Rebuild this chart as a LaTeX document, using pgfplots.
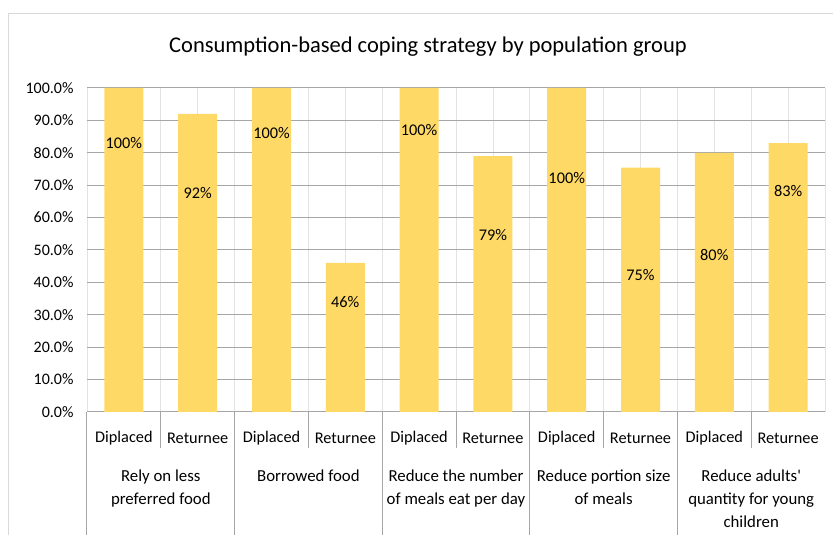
\documentclass[border=0pt]{standalone}
\usepackage{pgfplots}
\pgfplotsset{compat=1.18}
\usepackage{pgfplotstable}
\usepackage{fontspec}
\setmainfont{Carlito}
\newfontfamily\rawcarlito{Carlito}

\definecolor{barY}{HTML}{FFD966}
\definecolor{gridH}{HTML}{A6A6A6}
\definecolor{gridV}{HTML}{E3E3E3}
\definecolor{frameC}{HTML}{D9D9D9}
\definecolor{sepC}{HTML}{A6A6A6}

\pgfplotstableread{
x val ly
0 100 83.0
1 92 67.6
2 100 86.1
3 46 34.0
4 100 87.0
5 79 54.6
6 100 72.2
7 75.4 42.3
8 80 48.5
9 83 68.2
}\data

\begin{document}
\begin{tikzpicture}[x=1pt,y=1pt]
\useasboundingbox (0,0) rectangle (833,535);
\draw[frameC, line width=1pt] (8.5,0) -- (8.5,521) -- (840,521);
\node[font=\fontsize{22.5}{27}\selectfont] at (428,488) {Consumption-based coping strategy by population group};
\begin{axis}[
  at={(87pt,123pt)}, anchor=south west,
  scale only axis, width=738pt, height=324pt,
  xmin=-0.5, xmax=9.5, ymin=0, ymax=100,
  clip=false,
  axis lines*=left,
  y axis line style={draw=none},
  x axis line style={draw=sepC, line width=1pt, -},
  ytick={0,10,...,100},
  /pgf/number format/assume math mode=true,
  yticklabel={\pgfmathprintnumber[fixed,fixed zerofill,precision=1]{\tick}\%},
  yticklabel style={font=\fontsize{16}{19}\selectfont, xshift=-10pt},
  ymajorgrids,
  major grid style={draw=gridH, line width=1pt},
  xtick={0,...,9},
  xticklabels={Diplaced,Returnee,Diplaced,Returnee,Diplaced,Returnee,Diplaced,Returnee,Diplaced,Returnee},
  xticklabel style={font=\fontsize{16.3}{19}\selectfont, anchor=center, yshift=-26pt},
  minor xtick={-0.5,0.5,...,9.5},
  xminorgrids, xmajorgrids,
  x grid style={draw=gridV, line width=0.8pt},
  minor x grid style={draw=gridV, line width=0.8pt},
  major tick length=0pt, minor tick length=0pt,
]
\addplot[ybar, bar width=39pt, bar shift=0pt, fill=barY, draw=none] table[x=x, y=val] {\data};
\addplot[only marks, mark=none,
  nodes near coords={\pgfmathprintnumber[fixed,precision=0]{\pgfplotspointmeta}\%},
  point meta=explicit,
  every node near coord/.style={anchor=center, font=\fontsize{16.3}{19}\selectfont, text=black}]
  table[x=x, y=ly, meta=val] {\data};
% category separators below the axis
\pgfplotsinvokeforeach{0.5,2.5,4.5,6.5,8.5}{
  \draw[sepC, line width=1pt] (axis cs:#1,0) -- ([yshift=-36pt]axis cs:#1,0);
}
\pgfplotsinvokeforeach{-0.5,1.5,3.5,5.5,7.5}{
  \draw[sepC, line width=1pt] (axis cs:#1,0) -- ([yshift=-130pt]axis cs:#1,0);
}
\tikzset{grp/.style={anchor=north, align=center, inner sep=0pt, font=\fontsize{16.8}{23}\selectfont}}
\node[grp] at ([yshift=-58pt]axis cs:0.5,0) {Rely on less\\preferred food};
\node[grp] at ([yshift=-58pt]axis cs:2.5,0) {Borrowed food};
\node[grp] at ([yshift=-58pt]axis cs:4.5,0) {Reduce the number\\of meals eat per day};
\node[grp] at ([yshift=-58pt]axis cs:6.5,0) {Reduce portion size\\of meals};
\node[grp] at ([yshift=-58pt]axis cs:8.5,0) {Reduce adults{\rawcarlito'}\\quantity for young\\children};
\end{axis}
\end{tikzpicture}
\end{document}
